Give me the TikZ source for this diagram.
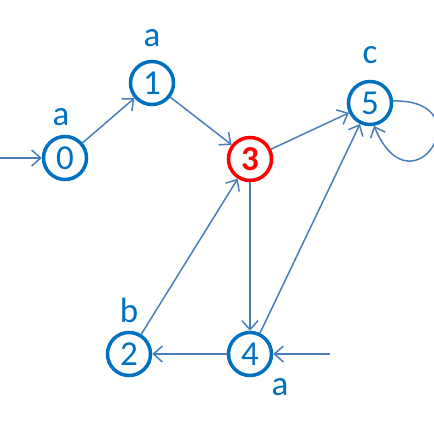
\documentclass[tikz,border=0pt]{standalone}
\usepackage{fontspec}
\setmainfont{Carlito}
\usetikzlibrary{arrows.meta}
\definecolor{nodeblue}{RGB}{0,112,192}
\definecolor{edgeblue}{RGB}{74,126,187}
\definecolor{accred}{RGB}{255,0,0}
\tikzset{
  state/.style={circle, draw=nodeblue, line width=3.5pt, minimum size=43pt, inner sep=0pt,
    text=nodeblue, font=\fontsize{35}{35}\selectfont},
  hot/.style={state, draw=accred, text=accred, font=\fontsize{35}{35}\selectfont\bfseries},
  lbl/.style={text=nodeblue, inner sep=0pt, font=\fontsize{35}{35}\selectfont},
  edge/.style={draw=edgeblue, line width=1.5pt, -{Straight Barb[length=9pt,width=16pt,line width=1.5pt]}}
}
\begin{document}
\begin{tikzpicture}[x=1pt,y=1pt]
\useasboundingbox (0,0) rectangle (434,429);
\node[state] (n0) at (65,271) {0};
\node[state] (n1) at (152,346) {1};
\node[hot]   (n3) at (250,270) {3};
\node[state] (n5) at (370,326) {5};
\node[state] (n2) at (129,75) {2};
\node[state] (n4) at (250,75) {4};
\node[lbl] (l0) at (61,312) {a};
\node[lbl] (l1) at (152,391) {a};
\node[lbl] (l5) at (370,374) {c};
\node[lbl] (l2) at (129,119) {b};
\node[lbl] (l4) at (280,42) {a};
\coordinate (s0) at (0,271);
\coordinate (s4) at (330,75);
\draw[edge] (s0) -- (n0);
\draw[edge] (s4) -- (n4);
\draw[edge] (n0) -- (n1);
\draw[edge] (n1) -- (n3);
\draw[edge] (n3) -- (n5);
\draw[edge] (n3) -- (n4);
\draw[edge] (n4) -- (n2);
\draw[edge] (n2) -- (n3);
\draw[edge] (n4) -- (n5);
\draw[edge] (n5.5) .. controls (485,330) and (412,212) .. (n5.-80);
\end{tikzpicture}
\end{document}
